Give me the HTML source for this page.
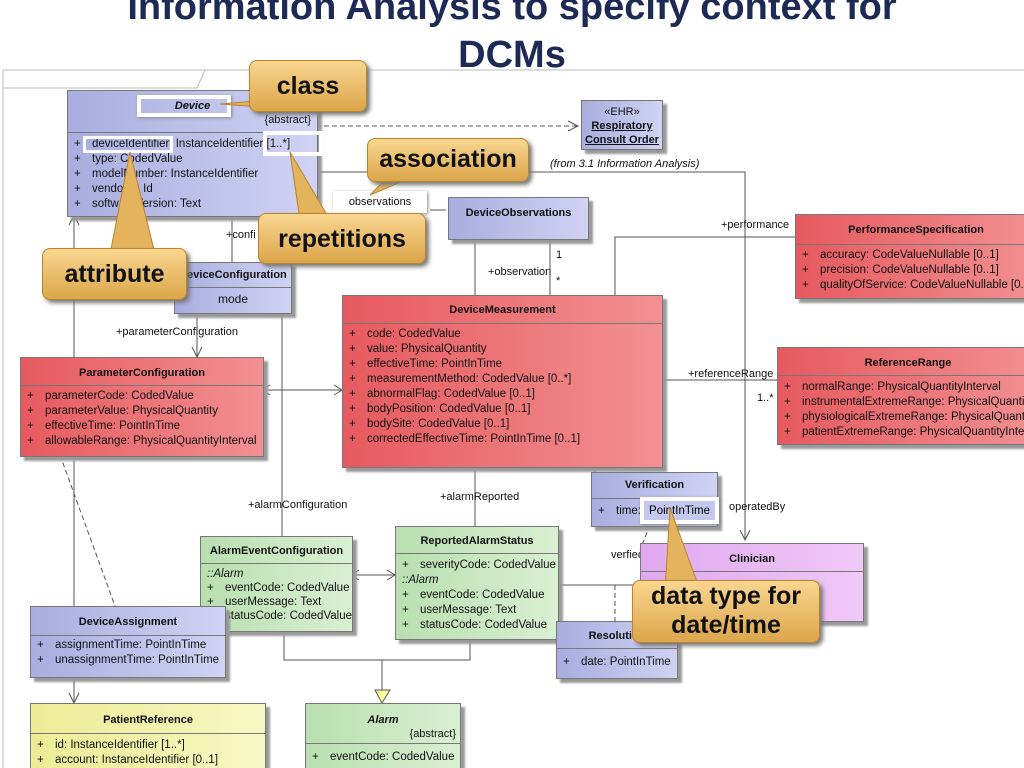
<!DOCTYPE html>
<html style="overflow:hidden"><head><meta charset="utf-8"><style>
html,body{overflow:hidden;height:768px}
body{margin:0;width:1024px;background:#fff;font-family:"Liberation Sans",sans-serif;position:relative}
.t{position:absolute;left:0;width:1024px;text-align:center;color:#1c2a55;font-weight:bold;font-size:38px}
.b{position:absolute;box-shadow:4px 4px 2px #999;border:1px solid #777;font-size:11px;color:#111;overflow:hidden}
.bl{background:linear-gradient(90deg,#a9addf,#d0d3f3)}
.rd{background:linear-gradient(90deg,#e65a5f,#f29093)}
.gr{background:linear-gradient(90deg,#b9dfb0,#d9f0d2)}
.ye{background:linear-gradient(90deg,#ecec96,#f7f7c4)}
.pu{background:linear-gradient(90deg,#e0a8ef,#f0c9f7)}
.h{text-align:center;font-weight:bold;border-bottom:1px solid #777;box-sizing:border-box;padding-top:6px}
.a{padding:3px 0 0 6px;line-height:15px;font-size:11.5px;white-space:nowrap}
.a span{display:inline-block;width:18px}
.c{position:absolute;background:linear-gradient(#f9d690,#dca64b);border:1px solid #b8842c;border-radius:8px;box-shadow:3px 3px 4px #777;font-weight:bold;color:#111;text-align:center;font-size:25px}
.l{position:absolute;font-size:11px;color:#111;white-space:nowrap}
</style></head><body>
<div class="t" style="top:-14px">Information Analysis  to specify context for</div>
<div class="t" style="top:34px">DCMs</div>
<svg style="position:absolute;left:0;top:0" width="1024" height="768">
<rect x="3" y="70" width="1030" height="700" fill="none" stroke="#bbb"/>
<path d="M3 88H197L205 70" fill="none" stroke="#bbb"/>
<g stroke="#555" fill="none" stroke-width="1">
<path d="M316 126H578" stroke-dasharray="5,3"/><path d="M568 121L578 126L568 131"/>
<path d="M316 172H745V540"/><path d="M740 530L745 540L750 530"/>
<path d="M430 210H446"/>
<path d="M550 238V295"/>
<path d="M615 295V237H795"/>
<path d="M661 380H777"/>
<path d="M232 215V262"/>
<path d="M197 312V357"/><path d="M192 347L197 357L202 347"/>
<path d="M262 390H342"/><path d="M270 385L262 390L270 395M334 385L342 390L334 395"/>
<path d="M74 215V703"/><path d="M69 225L74 215L79 225M69 693L74 703L79 693"/>
<path d="M60 455L115 606" stroke-dasharray="5,3"/>
<path d="M282 312V536"/><path d="M475 238V526"/>
<path d="M351 575H395"/><path d="M359 570L351 575L359 580M387 570L395 575L387 580"/>
<path d="M284 630V660H470V638"/><path d="M382 660V690"/><path d="M375 690H390L382 703Z" fill="#ff9"/>
<path d="M595 466V520H640"/><path d="M630 515L640 520L630 525"/>
<path d="M650 525L640 550" stroke-dasharray="5,3"/>
<path d="M557 585H640"/><path d="M615 585V621" stroke-dasharray="5,3"/>
</g></svg>
<div class="b bl" style="left:67px;top:90px;width:249px;height:125px"><div class="h" style="height:42px;font-style:italic;padding-top:9px">Device<div style="text-align:right;font-weight:normal;font-style:normal;padding-right:6px;margin-top:2px">{abstract}</div></div>
<div class="a" style="padding-top:4px"><span>+</span>deviceIdentifier: InstanceIdentifier [1..*]<br><span>+</span>type: CodedValue<br><span>+</span>modelNumber: InstanceIdentifier<br><span>+</span>vendorId: Id<br><span>+</span>softwareVersion: Text</div></div>
<div style="position:absolute;left:137px;top:95px;width:94px;height:22px;border:4px solid #fff;box-sizing:border-box;box-shadow:1px 1px 3px #888"></div>
<div style="position:absolute;left:83px;top:136px;width:90px;height:17px;border:3px solid #fff;box-sizing:border-box"></div>
<div style="position:absolute;left:263px;top:131px;width:60px;height:25px;border:4px solid #fff;box-sizing:border-box"></div>
<div class="b bl" style="left:581px;top:100px;width:82px;height:50px;text-align:center;line-height:14px;padding-top:4px;box-sizing:border-box">«EHR»<br><b><u>Respiratory<br>Consult Order</u></b></div>
<div class="l" style="left:550px;top:158px;font-style:italic">(from 3.1 Information Analysis)</div>
<div class="l" style="left:333px;top:191px;width:94px;height:22px;border:3px solid #fff;box-shadow:1px 1px 3px #888;box-sizing:border-box;text-align:center;padding-top:2px">observations</div>
<div class="b bl" style="left:448px;top:197px;width:139px;height:41px"><div class="h" style="height:26px;border:none;padding-top:9px">DeviceObservations</div></div>
<div class="l" style="left:556px;top:249px">1</div><div class="l" style="left:488px;top:266px">+observation</div><div class="l" style="left:556px;top:275px">*</div>
<div class="l" style="left:226px;top:229px">+confi</div>
<div class="b bl" style="left:174px;top:262px;width:116px;height:50px"><div class="h" style="height:25px">DeviceConfiguration</div><div style="text-align:center;padding-top:4px;font-size:12px">mode</div></div>
<div class="l" style="left:116px;top:326px">+parameterConfiguration</div>
<div class="l" style="left:721px;top:219px">+performance</div>
<div class="b rd" style="left:795px;top:214px;width:240px;height:83px"><div class="h" style="height:30px;padding-top:9px">PerformanceSpecification</div><div class="a"><span>+</span>accuracy: CodeValueNullable [0..1]<br><span>+</span>precision: CodeValueNullable [0..1]<br><span>+</span>qualityOfService: CodeValueNullable [0..1]</div></div>
<div class="b rd" style="left:342px;top:295px;width:319px;height:171px"><div class="h" style="height:28px;padding-top:8px">DeviceMeasurement</div><div class="a"><span>+</span>code: CodedValue<br><span>+</span>value: PhysicalQuantity<br><span>+</span>effectiveTime: PointInTime<br><span>+</span>measurementMethod: CodedValue [0..*]<br><span>+</span>abnormalFlag: CodedValue [0..1]<br><span>+</span>bodyPosition: CodedValue [0..1]<br><span>+</span>bodySite: CodedValue [0..1]<br><span>+</span>correctedEffectiveTime: PointInTime [0..1]</div></div>
<div class="l" style="left:688px;top:368px">+referenceRange</div><div class="l" style="left:757px;top:392px">1..*</div>
<div class="b rd" style="left:777px;top:347px;width:260px;height:96px"><div class="h" style="height:28px;padding-top:9px">ReferenceRange</div><div class="a" style="padding-top:4px"><span>+</span>normalRange: PhysicalQuantityInterval<br><span>+</span>instrumentalExtremeRange: PhysicalQuantityInterval<br><span>+</span>physiologicalExtremeRange: PhysicalQuantityInterval<br><span>+</span>patientExtremeRange: PhysicalQuantityInterval</div></div>
<div class="b rd" style="left:20px;top:357px;width:242px;height:98px"><div class="h" style="height:28px;padding-top:9px">ParameterConfiguration</div><div class="a" style="padding-top:3px"><span>+</span>parameterCode: CodedValue<br><span>+</span>parameterValue: PhysicalQuantity<br><span>+</span>effectiveTime: PointInTime<br><span>+</span>allowableRange: PhysicalQuantityInterval</div></div>
<div class="l" style="left:248px;top:499px">+alarmConfiguration</div>
<div class="l" style="left:440px;top:491px">+alarmReported</div>
<div class="b bl" style="left:591px;top:472px;width:125px;height:53px"><div class="h" style="height:26px">Verification</div><div class="a" style="padding-top:5px"><span>+</span>time: PointInTime</div></div>
<div style="position:absolute;left:640px;top:497px;width:79px;height:27px;border:4px solid #fff;box-sizing:border-box;background:#c4c7ee;font-size:11.5px;text-align:center;padding-top:4px;box-shadow:1px 1px 3px #888">PointInTime</div>
<div class="l" style="left:729px;top:501px">operatedBy</div><div class="l" style="left:611px;top:549px">verfiedBy</div>
<div class="b pu" style="left:640px;top:543px;width:222px;height:77px"><div class="h" style="height:28px;padding-top:9px">Clinician</div></div>
<div class="b gr" style="left:200px;top:536px;width:151px;height:94px"><div class="h" style="height:27px;padding-top:8px">AlarmEventConfiguration</div><div class="a" style="padding-top:3px;line-height:14px"><i>::Alarm</i><br><span>+</span>eventCode: CodedValue<br><span>+</span>userMessage: Text<br><span>+</span>statusCode: CodedValue</div></div>
<div class="b gr" style="left:395px;top:526px;width:162px;height:112px"><div class="h" style="height:27px;padding-top:8px">ReportedAlarmStatus</div><div class="a" style="padding-top:4px"><span>+</span>severityCode: CodedValue<br><i>::Alarm</i><br><span>+</span>eventCode: CodedValue<br><span>+</span>userMessage: Text<br><span>+</span>statusCode: CodedValue</div></div>
<div class="b bl" style="left:30px;top:606px;width:194px;height:70px"><div class="h" style="height:29px;padding-top:9px">DeviceAssignment</div><div class="a" style="padding-top:2px"><span>+</span>assignmentTime: PointInTime<br><span>+</span>unassignmentTime: PointInTime</div></div>
<div class="b bl" style="left:556px;top:621px;width:120px;height:56px"><div class="h" style="height:27px;padding-top:8px">Resolution</div><div class="a" style="padding-top:6px"><span>+</span>date: PointInTime</div></div>
<div class="b ye" style="left:30px;top:703px;width:234px;height:80px"><div class="h" style="height:30px;padding-top:10px">PatientReference</div><div class="a" style="padding-top:4px"><span>+</span>id: InstanceIdentifier [1..*]<br><span>+</span>account: InstanceIdentifier [0..1]</div></div>
<div class="b gr" style="left:305px;top:703px;width:154px;height:80px"><div class="h" style="height:40px;padding-top:10px;font-style:italic">Alarm<div style="text-align:right;font-weight:normal;font-style:normal;padding-right:4px;margin-top:2px">{abstract}</div></div><div class="a" style="padding-top:6px"><span>+</span>eventCode: CodedValue</div></div>
<svg style="position:absolute;left:0;top:0" width="1024" height="768"><g fill="#e3b35e" stroke="#b8842c">
<path d="M268 100L220 104L275 108Z"/><path d="M390 175L370 195L410 178Z"/><path d="M300 220L290 152L330 220Z"/>
<path d="M110 254L130 152L155 254Z"/><path d="M665 590L670 508L700 590Z"/></g></svg>
<div class="c" style="left:249px;top:60px;width:116px;height:50px;line-height:50px">class</div>
<div class="c" style="left:367px;top:138px;width:160px;height:42px;line-height:40px">association</div>
<div class="c" style="left:258px;top:213px;width:166px;height:49px;line-height:50px">repetitions</div>
<div class="c" style="left:42px;top:248px;width:143px;height:50px;line-height:50px">attribute</div>
<div class="c" style="left:632px;top:580px;width:186px;height:60px;line-height:29px;padding-top:1px">data type for<br>date/time</div>
</body></html>
